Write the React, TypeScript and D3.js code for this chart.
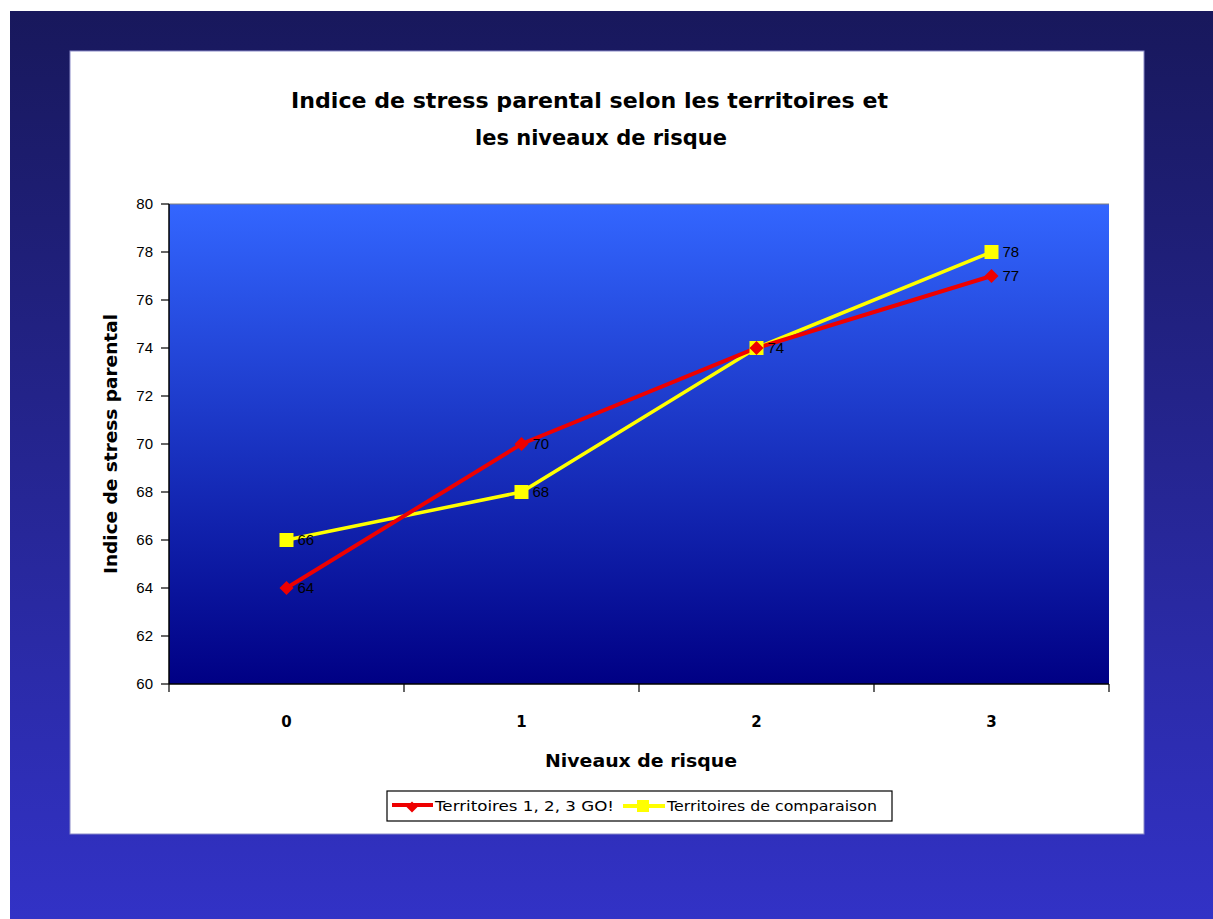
import React from "react";
import * as d3 from "d3";

const categories = ["0", "1", "2", "3"];
const seriesNames = ["Territoires 1, 2, 3 GO!", "Territoires de comparaison"];
const redValues = [64, 70, 74, 77];
const yellowValues = [66, 68, 74, 78];
const yTicks = [60, 62, 64, 66, 68, 70, 72, 74, 76, 78, 80];

const W = 1213;
const H = 919;
const plot = { left: 169, right: 1109, top: 204, bottom: 684 };
const comic = "'Comic Sans MS', 'DejaVu Sans', sans-serif";
const arial = "Arial, 'Liberation Sans', sans-serif";

export default function App() {
  const x = d3.scaleBand<string>().domain(categories).range([plot.left, plot.right]);
  const y = d3.scaleLinear().domain([60, 80]).range([plot.bottom, plot.top]);
  const cx = (c: string) => (x(c) as number) + x.bandwidth() / 2;
  const line = d3
    .line<number>()
    .x((_, i) => cx(categories[i]))
    .y((d) => y(d));
  const boundaries = [...categories.map((c) => x(c) as number), plot.right];
  const diamond = (r: number) => `M0,${-r}L${r},0L0,${r}L${-r},0Z`;

  return (
    <svg
      width={W}
      height={H}
      style={{ position: "absolute", left: 0, top: 0, display: "block" }}
    >
      <defs>
        <linearGradient id="bg" x1="0" y1="0" x2="0" y2="1">
          <stop offset="0" stopColor="#18185c" />
          <stop offset="1" stopColor="#3232c6" />
        </linearGradient>
        <linearGradient id="pa" x1="0" y1="0" x2="0" y2="1">
          <stop offset="0" stopColor="#3366ff" />
          <stop offset="1" stopColor="#000084" />
        </linearGradient>
      </defs>
      <rect x={0} y={0} width={W} height={H} fill="#ffffff" />
      <rect x={10} y={11} width={W - 10} height={H - 11} fill="url(#bg)" />
      <rect x={70} y={51} width={1074} height={783} fill="#ffffff" stroke="#8a8ac8" strokeWidth={1} />

      <text x={291} y={108} textLength={597} lengthAdjust="spacingAndGlyphs" fontFamily={comic} fontWeight="bold" fontSize={21} fill="#000">
        Indice de stress parental selon les territoires et
      </text>
      <text x={475} y={145} textLength={252} lengthAdjust="spacingAndGlyphs" fontFamily={comic} fontWeight="bold" fontSize={21} fill="#000">
        les niveaux de risque
      </text>

      <rect
        x={plot.left}
        y={plot.top}
        width={plot.right - plot.left}
        height={plot.bottom - plot.top}
        fill="url(#pa)"
      />
      <line x1={plot.left} x2={plot.right} y1={plot.top} y2={plot.top} stroke="#808080" strokeWidth={1} />

      {/* y axis */}
      <line x1={plot.left} x2={plot.left} y1={plot.top} y2={plot.bottom} stroke="#000" strokeWidth={1.5} />
      {yTicks.map((t) => (
        <g key={t}>
          <line x1={plot.left - 8} x2={plot.left} y1={y(t)} y2={y(t)} stroke="#000" strokeWidth={1.2} />
          <text x={plot.left - 16} y={y(t)} dy="0.35em" textAnchor="end" fontFamily={arial} fontSize={15} fill="#000">
            {t}
          </text>
        </g>
      ))}

      {/* x axis */}
      <line x1={plot.left} x2={plot.right} y1={plot.bottom} y2={plot.bottom} stroke="#000" strokeWidth={1.5} />
      {boundaries.map((b, i) => (
        <line key={i} x1={b} x2={b} y1={plot.bottom} y2={plot.bottom + 8} stroke="#000" strokeWidth={1.2} />
      ))}
      {categories.map((c) => (
        <text key={c} x={cx(c)} y={727} textAnchor="middle" fontFamily={comic} fontWeight="bold" fontSize={15} fill="#000">
          {c}
        </text>
      ))}

      <text x={545} y={767} textLength={192} lengthAdjust="spacingAndGlyphs" fontFamily={comic} fontWeight="bold" fontSize={18} fill="#000">
        Niveaux de risque
      </text>
      <text
        transform={`translate(117, ${(plot.top + plot.bottom) / 2}) rotate(-90)`}
        x={-130}
        textLength={260}
        lengthAdjust="spacingAndGlyphs"
        fontFamily={comic}
        fontWeight="bold"
        fontSize={18}
        fill="#000"
      >
        Indice de stress parental
      </text>

      {/* series */}
      <path d={line(yellowValues) as string} fill="none" stroke="#ffff00" strokeWidth={3.5} />
      <path d={line(redValues) as string} fill="none" stroke="#ee0000" strokeWidth={4} />
      {yellowValues.map((v, i) => (
        <rect key={"ys" + i} x={cx(categories[i]) - 7} y={y(v) - 7} width={14} height={14} fill="#ffff00" />
      ))}
      {redValues.map((v, i) => (
        <path key={"rd" + i} d={diamond(7)} transform={`translate(${cx(categories[i])},${y(v)})`} fill="#ee0000" />
      ))}
      {redValues.map((v, i) => (
        <text key={"rl" + i} x={cx(categories[i]) + 11} y={y(v)} dy="0.35em" fontFamily={arial} fontSize={15} fill="#000">
          {v}
        </text>
      ))}
      {yellowValues.map((v, i) =>
        v === redValues[i] ? null : (
          <text key={"yl" + i} x={cx(categories[i]) + 11} y={y(v)} dy="0.35em" fontFamily={arial} fontSize={15} fill="#000">
            {v}
          </text>
        )
      )}

      {/* legend */}
      <rect x={387} y={791} width={505} height={30} fill="#fff" stroke="#000" strokeWidth={1.2} />
      <line x1={392} x2={433} y1={805} y2={805} stroke="#ee0000" strokeWidth={4} />
      <path d={diamond(5.5)} transform="translate(412,807)" fill="#ee0000" />
      <text x={435} y={806} dy="0.35em" textLength={179} lengthAdjust="spacingAndGlyphs" fontFamily={comic} fontSize={14} fill="#000">
        {seriesNames[0]}
      </text>
      <line x1={623} x2={665} y1={806} y2={806} stroke="#ffff00" strokeWidth={4} />
      <rect x={637} y={800} width={12} height={12} fill="#ffff00" />
      <text x={667} y={806} dy="0.35em" textLength={210} lengthAdjust="spacingAndGlyphs" fontFamily={comic} fontSize={14} fill="#000">
        {seriesNames[1]}
      </text>
    </svg>
  );
}
